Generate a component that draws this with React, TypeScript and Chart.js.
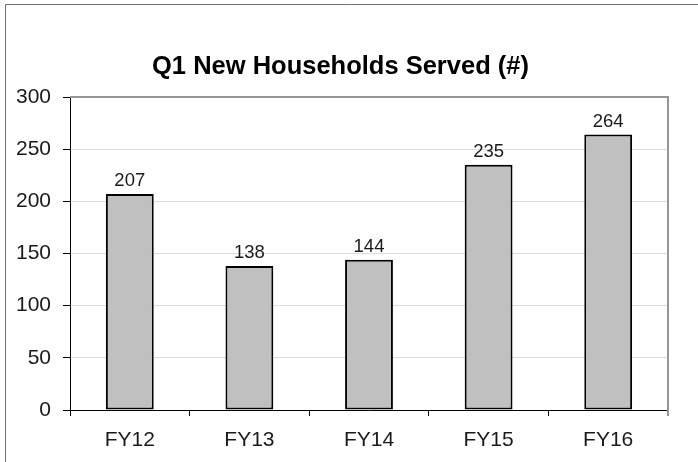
import React, { useEffect, useRef } from 'react';
import { Chart, registerables } from 'chart.js';

Chart.register(...registerables);

const categories = ['FY12', 'FY13', 'FY14', 'FY15', 'FY16'];
const values = [207, 138, 144, 235, 264];
const yTicks = [0, 50, 100, 150, 200, 250, 300];
const chartTitle = 'Q1 New Households Served (#)';

const FONT = '"Liberation Sans", Arial, Helvetica, sans-serif';

export default function App() {
  const ref = useRef<HTMLCanvasElement>(null);

  useEffect(() => {
    if (!ref.current) return;

    const framePlugin = {
      id: 'framePlugin',
      beforeDraw(chart: any) {
        const { ctx, width, height } = chart;
        ctx.save();
        ctx.fillStyle = '#ffffff';
        ctx.fillRect(0, 0, width, height);
        ctx.strokeStyle = '#707070';
        ctx.lineWidth = 1;
        ctx.beginPath();
        ctx.moveTo(5.5, height);
        ctx.lineTo(5.5, 4.5);
        ctx.lineTo(width, 4.5);
        ctx.stroke();
        ctx.font = `bold 25.5px ${FONT}`;
        ctx.fillStyle = '#000000';
        ctx.textAlign = 'center';
        ctx.textBaseline = 'alphabetic';
        ctx.fillText(chartTitle, 340.5, 74);
        ctx.restore();
      },
      afterDraw(chart: any) {
        const { ctx, chartArea: a } = chart;
        ctx.save();
        ctx.strokeStyle = '#969696';
        ctx.lineWidth = 2;
        ctx.beginPath();
        ctx.moveTo(a.left, a.top);
        ctx.lineTo(a.right, a.top);
        ctx.lineTo(a.right, a.bottom + 6);
        ctx.stroke();
        ctx.restore();
      },
      afterDatasetsDraw(chart: any) {
        const { ctx } = chart;
        const meta = chart.getDatasetMeta(0);
        ctx.save();
        ctx.font = `18.5px ${FONT}`;
        ctx.fillStyle = '#1a1a1a';
        ctx.textAlign = 'center';
        ctx.textBaseline = 'alphabetic';
        meta.data.forEach((el: any, i: number) => {
          ctx.fillText(String(values[i]), el.x, el.y - 8);
        });
        ctx.restore();
      },
    };

    const chart = new Chart(ref.current, {
      type: 'bar',
      data: {
        labels: categories,
        datasets: [
          {
            data: values,
            backgroundColor: '#c0c0c0',
            borderColor: '#000000',
            borderWidth: 2,
            borderSkipped: false,
            barPercentage: 0.4,
            categoryPercentage: 1,
          },
        ],
      },
      options: {
        responsive: false,
        animation: false,
        layout: { padding: { left: 0, right: 30, top: 97, bottom: 0 } },
        plugins: {
          legend: { display: false },
          tooltip: { enabled: false },
          title: { display: false },
        },
        scales: {
          x: {
            offset: true,
            grid: {
              display: true,
              offset: true,
              drawOnChartArea: false,
              drawTicks: true,
              tickLength: 6,
              tickColor: '#000000',
            },
            border: { display: true, color: '#000000', width: 1 },
            ticks: {
              font: { family: FONT, size: 21 },
              color: '#1a1a1a',
              padding: 12,
              maxRotation: 0,
            },
            afterFit(s: any) {
              s.height = 52;
            },
          },
          y: {
            min: 0,
            max: 300,
            afterBuildTicks(s: any) {
              s.ticks = yTicks.map((v) => ({ value: v }));
            },
            grid: {
              color: (c: any) => (c.tick && c.tick.value === 300 ? 'rgba(0,0,0,0)' : '#dcdcdc'),
              lineWidth: 1,
              drawTicks: true,
              tickLength: 7,
              tickColor: '#000000',
            },
            border: { display: true, color: '#000000', width: 1 },
            ticks: {
              font: { family: FONT, size: 21 },
              color: '#1a1a1a',
              padding: 12,
            },
            afterFit(s: any) {
              s.width = 70;
            },
          },
        },
      },
      plugins: [framePlugin],
    });

    return () => chart.destroy();
  }, []);

  return (
    <div style={{ position: 'absolute', left: 0, top: 0, width: 698, height: 462 }}>
      <canvas ref={ref} width={698} height={462} style={{ display: 'block', width: 698, height: 462 }} />
    </div>
  );
}
